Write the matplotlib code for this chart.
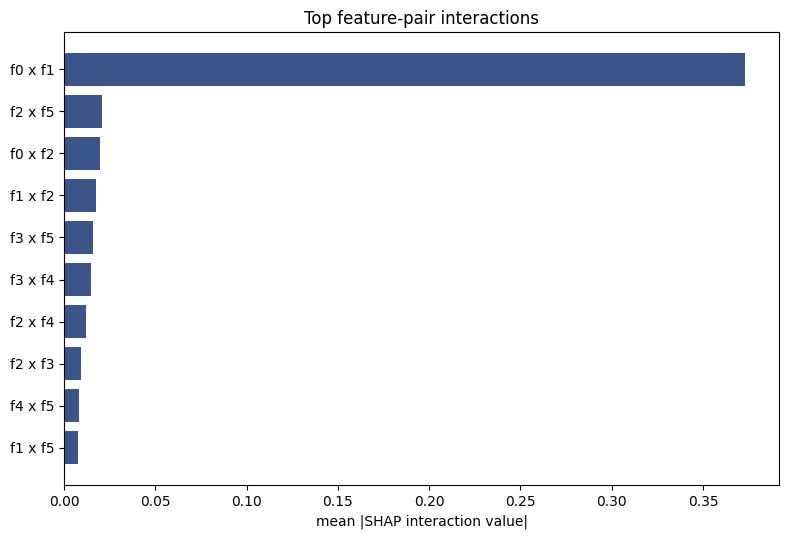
import matplotlib
matplotlib.use("Agg")
import matplotlib.pyplot as plt

pairs = ["f0 x f1", "f2 x f5", "f0 x f2", "f1 x f2", "f3 x f5",
         "f3 x f4", "f2 x f4", "f2 x f3", "f4 x f5", "f1 x f5"]
values = [0.373, 0.0208, 0.0197, 0.0175, 0.0159,
          0.0148, 0.0120, 0.0093, 0.0082, 0.0077]

fig = plt.figure(figsize=(7.9, 5.4), dpi=100)
ax = fig.add_axes([64 / 790, 55 / 540, 715 / 790, 453 / 540])
ax.barh(pairs[::-1], values[::-1], color="#3b5489")
ax.set_title("Top feature-pair interactions")
ax.set_xlabel("mean |SHAP interaction value|")
fig.savefig("out.png", dpi=100)
